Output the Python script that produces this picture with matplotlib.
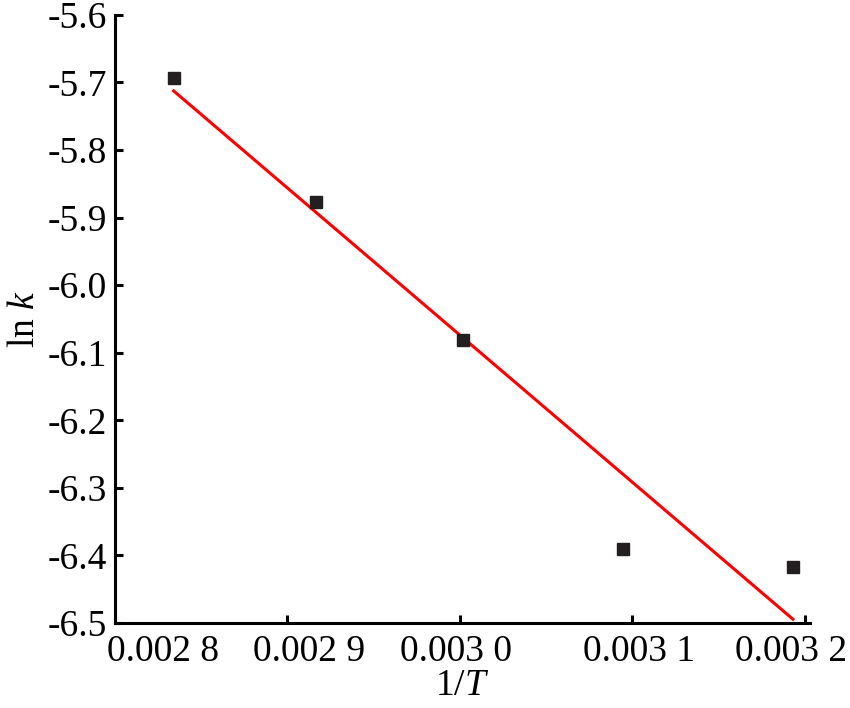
import numpy as np
import matplotlib
matplotlib.use('Agg')
import matplotlib.pyplot as plt
import matplotlib.transforms as mtransforms

plt.rcParams['font.family'] = ['Liberation Serif', 'DejaVu Serif']
plt.rcParams['mathtext.fontset'] = 'custom'
plt.rcParams['mathtext.it'] = 'Liberation Serif:italic'
plt.rcParams['mathtext.rm'] = 'Liberation Serif'

# data: 1/T vs ln k
inv_T = [0.002834, 0.0029167, 0.003002, 0.0030948, 0.0031931]
ln_k = [-5.693, -5.877, -6.081, -6.390, -6.417]

x_ticks = [0.0028, 0.0029, 0.0030, 0.0031, 0.0032]
x_labels = ['0.002 8', '0.002 9', '0.003 0', '0.003 1', '0.003 2']
y_ticks = [-6.5, -6.4, -6.3, -6.2, -6.1, -6.0, -5.9, -5.8, -5.7, -5.6]
y_labels = ['-6.5', '-6.4', '-6.3', '-6.2', '-6.1', '-6.0', '-5.9', '-5.8', '-5.7', '-5.6']

fig = plt.figure(figsize=(8.5, 7.08), dpi=100)
ax = fig.add_axes([0.1353, 0.12, 0.8177, 0.859])

# linear fit
coef = np.polyfit(inv_T, ln_k, 1)
xf = np.array([inv_T[0], inv_T[-1]])
ax.plot(xf, np.polyval(coef, xf), color='#ff0000', lw=2.2, zorder=2)
ax.plot(inv_T, ln_k, 's', color='#231f20', ms=8.8, zorder=3)

ax.set_xlim(0.0028, 0.003203)
ax.set_ylim(-6.5, -5.6)
ax.set_xticks(x_ticks)
ax.set_xticklabels(x_labels)
ax.set_yticks(y_ticks)
ax.set_yticklabels(y_labels)

for s in ['top', 'right']:
    ax.spines[s].set_visible(False)
for s in ['left', 'bottom']:
    ax.spines[s].set_linewidth(2.2)
ax.tick_params(direction='in', length=6, width=2.2, labelsize=27)
ax.tick_params(axis='x', pad=8)
ax.tick_params(axis='y', pad=6)

# shift x labels a little like the original
shifts = [48, 22, -4, 7, -14]
for lab, dx in zip(ax.get_xticklabels(), shifts):
    lab.set_transform(lab.get_transform() +
                      mtransforms.ScaledTranslation(dx / 100, 0, fig.dpi_scale_trans))

ax.set_xlabel('1/$T$', fontsize=27, labelpad=0)
ax.set_ylabel('ln $k$', fontsize=27, labelpad=4)

fig.savefig('out.png', dpi=100)
